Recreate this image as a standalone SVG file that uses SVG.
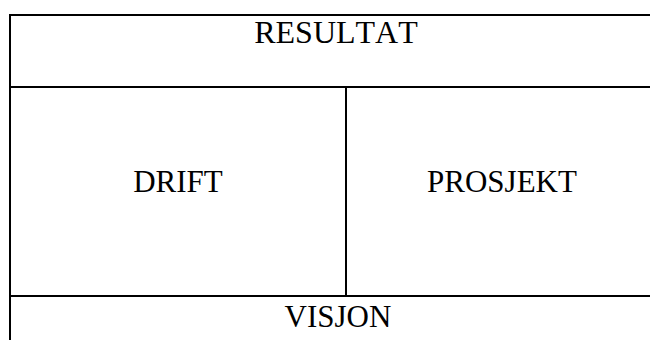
<svg xmlns="http://www.w3.org/2000/svg" width="650" height="340" viewBox="0 0 650 340">
<style>
.ln{stroke:#000;stroke-width:2;fill:none}
.t{font-family:"Liberation Serif","Times New Roman",serif;font-size:31px;fill:#000;text-anchor:middle}
</style>
<rect width="650" height="340" fill="#fff"/>
<g id="connectors">
<path class="ln" d="M10,340 V15 H650"/>
<path class="ln" d="M9,87 H650"/>
<path class="ln" d="M9,296 H650"/>
<path class="ln" d="M346,87 V296"/>
</g>
<g id="resultat"><text class="t" x="336" y="43" style="font-size:32px;font-kerning:none">RESULTAT</text></g>
<g id="drift"><text class="t" x="178" y="192">DRIFT</text></g>
<g id="prosjekt"><text class="t" x="502" y="192">PROSJEKT</text></g>
<g id="visjon"><text class="t" x="338" y="327">VISJON</text></g>
</svg>
